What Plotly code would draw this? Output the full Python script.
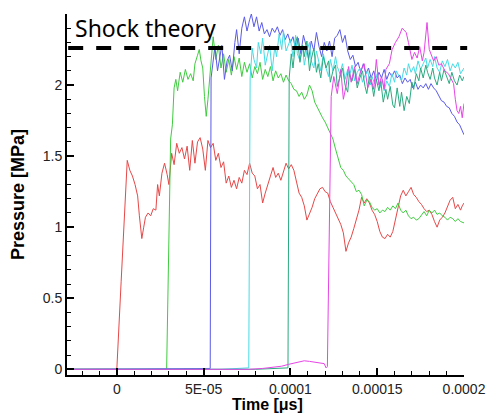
import plotly.graph_objects as go

# (time [us], pressure [MPa])
RED = [(-29,0),(0,0),(2.5,0.62),(5,1.30),(6,1.47),(7.5,1.40),(9,1.36),(10.5,1.30),(12,1.22),(13,1.08),(14.4,0.92),(15.5,1.00),(16.5,1.07),(18,1.10),(19.5,1.08),(21,1.13),(22.5,1.12),(23.5,1.30),(24.5,1.22),(26,1.38),(27.5,1.45),(29,1.37),(30,1.30),(31.6,1.52),(33,1.44),(34.5,1.59),(36,1.52),(37.5,1.56),(39,1.48),(40.5,1.57),(42,1.40),(43.5,1.61),(45,1.45),(46.5,1.60),(48,1.63),(49.5,1.55),(51,1.40),(52.5,1.61),(54,1.56),(55.5,1.59),(57,1.47),(58.5,1.52),(60,1.42),(61.5,1.46),(63,1.31),(64.5,1.36),(66,1.28),(67.5,1.33),(69,1.27),(70.5,1.35),(72,1.31),(73.5,1.40),(75,1.37),(76.5,1.45),(78,1.38),(79.5,1.36),(81,1.27),(82.5,1.30),(84,1.17),(85.5,1.24),(87,1.30),(88.5,1.36),(90,1.42),(91.5,1.35),(93,1.38),(94.5,1.33),(96,1.40),(97.5,1.45),(99,1.41),(100.5,1.44),(102,1.40),(103.5,1.33),(105,1.24),(106.5,1.21),(108,1.15),(109.5,1.05),(111,1.09),(112.5,1.14),(114,1.20),(115.5,1.24),(117,1.27),(118.5,1.28),(120,1.25),(121.5,1.24),(123,1.18),(124.5,1.14),(126,1.10),(127.5,1.07),(129,1.02),(130.5,0.96),(132,0.83),(133.5,0.89),(135,0.93),(136.5,0.99),(138,1.05),(139.5,1.12),(141,1.21),(142.5,1.17),(144,1.20),(145.5,1.17),(147,1.12),(148.5,1.09),(150,1.04),(151.5,0.97),(153,0.93),(154.5,0.92),(156,0.95),(157.5,0.93),(159,0.97),(160.5,1.05),(162,1.12),(163.5,1.22),(165,1.26),(166.5,1.22),(168,1.25),(169.5,1.28),(171,1.23),(172.5,1.21),(174,1.18),(175.5,1.16),(177,1.13),(178.5,1.11),(180,1.12),(181.5,1.09),(183,1.04),(184.5,1.00),(186,1.05),(187.5,1.07),(189,1.10),(190.5,1.15),(192,1.19),(193.5,1.21),(195,1.13),(196.5,1.16),(198,1.12),(199,1.15),(200,1.17)]

GREEN = [(-29,0),(28.7,0),(31,1.62),(32,1.72),(33,1.98),(34,2.04),(35,1.96),(36.5,2.09),(38,2.02),(39.5,2.11),(41,2.04),(42.5,2.08),(44,2.03),(45,2.15),(46.5,2.21),(47.5,2.25),(48.5,2.17),(49.5,2.12),(50.5,1.92),(51.5,1.78),(52.5,1.90),(53.5,2.05),(54.5,2.22),(55.5,2.34),(57,2.18),(58.5,2.28),(60,2.12),(61.5,2.22),(63,2.09),(64.5,2.18),(66,2.07),(67.5,2.20),(69,2.11),(70.5,2.19),(72,2.06),(73.5,2.16),(75,2.09),(76.5,2.15),(78,2.05),(79.5,2.13),(81,2.08),(82.5,2.16),(84,2.04),(85.5,2.11),(87,2.06),(88.5,2.13),(90,2.03),(91.5,2.10),(93,2.05),(94.5,2.08),(96,2.02),(97.5,2.07),(99,2.03),(100.5,2.01),(102,1.97),(103.5,1.96),(105,1.92),(106.5,1.95),(108,1.90),(109.5,1.93),(111,2.00),(112.5,1.96),(114,1.88),(115.5,1.84),(117,1.81),(118.5,1.77),(120,1.74),(121.5,1.70),(123,1.67),(124.5,1.62),(126,1.55),(127.5,1.48),(129,1.42),(130.5,1.40),(132,1.36),(133.5,1.34),(135,1.32),(136.5,1.30),(138,1.25),(139.5,1.26),(141,1.23),(142.5,1.15),(144,1.19),(145.5,1.18),(147,1.14),(148.5,1.12),(150,1.13),(151.5,1.10),(153,1.12),(154.5,1.11),(156,1.14),(157.5,1.12),(159,1.15),(160.5,1.13),(162,1.17),(163.5,1.12),(165,1.10),(166.5,1.12),(168,1.08),(169.5,1.06),(171,1.07),(172.5,1.05),(174,1.06),(175.5,1.09),(177,1.11),(178.5,1.08),(180,1.12),(181.5,1.10),(183,1.12),(184.5,1.09),(186,1.10),(187.5,1.08),(189,1.07),(190.5,1.05),(192,1.07),(193.5,1.06),(195,1.04),(196.5,1.06),(198,1.04),(200,1.03)]

BLUE = [(-29,0),(20,0.002),(40,0.006),(53.8,0.006),(54.3,2.05),(55.5,2.16),(56.5,2.27),(58,2.10),(59.5,2.22),(60.5,2.28),(62,2.04),(63.5,2.17),(65,2.21),(66.5,2.10),(68,2.30),(69,2.39),(70.5,2.22),(72,2.40),(73.5,2.48),(75,2.38),(76.5,2.46),(77.5,2.50),(79,2.41),(80.5,2.48),(82,2.38),(83.5,2.44),(85,2.36),(86.5,2.39),(88,2.34),(89.5,2.40),(91,2.37),(92.5,2.41),(94,2.35),(95.5,2.39),(97,2.32),(98.5,2.36),(100,2.30),(101.5,2.34),(103,2.25),(104.5,2.33),(106,2.22),(107.5,2.35),(109,2.28),(110.5,2.18),(112,2.31),(113.5,2.24),(115,2.37),(116.5,2.27),(118,2.20),(119.5,2.30),(121,2.24),(122.5,2.31),(124,2.20),(125.5,2.33),(127,2.35),(128.5,2.39),(130,2.30),(131.5,2.35),(133,2.24),(134.5,2.18),(136,2.21),(137.5,2.13),(139,2.16),(140.5,2.09),(142,2.15),(143.5,2.08),(145,2.12),(146.5,2.05),(148,2.10),(149.5,2.03),(151,2.09),(152.5,2.05),(154,2.11),(155.5,2.04),(157,2.09),(158.5,2.06),(160,2.10),(161.5,2.05),(163,2.07),(164.5,2.01),(166,2.05),(167.5,2.02),(169,2.04),(170.5,1.98),(172,2.02),(173.5,1.97),(175,2.00),(176.5,1.98),(178,2.01),(179.5,1.97),(181,2.01),(182.5,1.98),(184,1.96),(185.5,1.93),(187,1.89),(188.5,1.88),(190,1.85),(191.5,1.84),(193,1.80),(194.5,1.78),(196,1.74),(197.5,1.72),(199,1.68),(200,1.65)]

CYAN = [(-29,0),(60,0),(76,0.01),(76.8,2.05),(78,2.26),(79,2.18),(80.5,2.12),(81.5,2.30),(83,2.22),(84,2.33),(85.5,2.14),(87,2.24),(88,2.28),(89.5,2.10),(91,2.27),(92,2.20),(93.5,2.36),(95,2.25),(96,2.38),(97.5,2.24),(99,2.29),(100,2.32),(101.5,2.20),(103,2.35),(104,2.22),(105.5,2.17),(107,2.28),(108,2.14),(109.5,2.24),(111,2.30),(112,2.17),(113.5,2.12),(115,2.24),(116.5,2.16),(117.5,2.10),(119,2.22),(120.5,2.12),(122,2.06),(123,2.18),(124.5,2.10),(126,2.20),(127,2.13),(128.5,2.08),(130,2.15),(131.5,2.04),(133,2.11),(134,2.06),(135.5,2.14),(137,2.03),(138.5,2.09),(140,2.12),(141.5,2.02),(143,2.07),(144.5,2.10),(146,2.00),(147,2.06),(148.5,2.01),(150,2.08),(151.5,1.98),(153,2.04),(154,1.96),(155.5,2.03),(157,1.99),(158.5,2.08),(160,2.02),(161,2.10),(162.5,2.06),(164,2.03),(165.5,2.12),(167,2.07),(168,2.15),(169.5,2.09),(171,2.13),(172,2.08),(173.5,2.17),(175,2.11),(176.5,2.15),(178,2.19),(179,2.12),(180.5,2.18),(182,2.13),(183,2.20),(184.5,2.12),(186,2.09),(187.5,2.17),(189,2.13),(190.5,2.18),(192,2.10),(193.5,2.15),(195,2.12),(196.5,2.16),(198,2.08),(200,2.12)]

TEAL = [(-29,0),(80,0),(98.6,0.01),(99.3,2.05),(100.5,2.22),(101.5,2.12),(103,2.30),(104,2.34),(105.5,2.16),(107,2.28),(108,2.20),(109.5,2.31),(111,2.10),(112,2.18),(113.5,2.26),(115,2.09),(116,2.15),(117.5,2.05),(119,2.20),(120.5,2.12),(122,2.17),(123,2.02),(124.5,2.10),(126,2.14),(127,1.99),(128.5,2.06),(130,2.12),(131.5,2.00),(133,1.95),(134,2.08),(135.5,2.03),(137,2.11),(138.5,1.98),(140,2.05),(141.5,2.10),(143,1.99),(144,1.94),(145.5,2.06),(147,2.00),(148,1.92),(149.5,2.04),(151,1.96),(152,2.03),(153.5,1.88),(155,1.97),(156,1.90),(157.5,1.99),(159,1.86),(160,1.84),(161.5,1.98),(163,1.85),(164,1.95),(165.5,1.82),(167,1.92),(168.5,1.87),(170,2.02),(171,1.97),(172.5,2.08),(174,2.03),(175,2.12),(176.5,2.05),(178,2.14),(179,2.09),(180.5,2.04),(182,2.12),(183,2.05),(184.5,2.00),(186,2.09),(187,2.03),(188.5,2.11),(190,2.06),(191.5,2.01),(193,2.09),(194.5,2.03),(196,2.00),(197.5,2.07),(199,2.03),(200,2.06)]

MAGENTA = [(-29,0),(76,0),(84,0.006),(90,0.014),(95,0.022),(99,0.035),(102,0.045),(105,0.055),(108,0.06),(111,0.056),(114,0.05),(117,0.045),(119.5,0.04),(120.5,0.01),(121.3,0.02),(123.5,1.92),(125,2.06),(127,1.94),(129,2.11),(130.5,1.90),(132,1.99),(133.5,2.13),(135,2.02),(137,2.13),(138.5,2.01),(140.5,2.10),(142.5,2.15),(144.5,1.98),(146.5,2.04),(148,1.97),(149.5,2.18),(151,2.00),(152.5,2.06),(154,1.97),(155,2.11),(157,2.15),(158.6,2.25),(160.5,2.30),(162.5,2.34),(164.4,2.40),(166.7,2.37),(168,2.30),(170,2.18),(171.5,2.23),(173,2.19),(174.5,2.27),(176,2.17),(177,2.23),(178.7,2.44),(180,2.25),(181,2.22),(182.5,2.17),(184,2.20),(185.5,2.14),(187,2.15),(189,2.10),(191,2.08),(193,2.04),(194,2.01),(195,1.90),(196,1.82),(197,1.80),(198,1.85),(199,1.77),(200,1.87)]

SHOCK_THEORY = 2.26
X_TICKS = [0, 5e-5, 1e-4, 1.5e-4, 2e-4]
X_TICK_TEXT = ["0", "5E-05", "0.0001", "0.00015", "0.0002"]
Y_TICKS = [0, 0.5, 1, 1.5, 2, 2.5]
Y_TICK_TEXT = ["0", "0.5", "1", "1.5", "2", "2.5"]

series = [
    (RED, "#e64848"),
    (GREEN, "#3fcc3f"),
    (BLUE, "#5a5ae8"),
    (CYAN, "#45dce6"),
    (TEAL, "#2aaa80"),
    (MAGENTA, "#e645e6"),
]

fig = go.Figure()
for data, color in series:
    fig.add_trace(go.Scatter(
        x=[t * 1e-6 for t, p in data],
        y=[p for t, p in data],
        mode="lines",
        line=dict(color=color, width=1),
        showlegend=False,
        hoverinfo="skip",
    ))

fig.add_shape(type="line", xref="paper", yref="y", x0=0.003, x1=1.008,
              y0=SHOCK_THEORY, y1=SHOCK_THEORY,
              line=dict(color="black", width=4, dash="15px,13px"), layer="above")

fig.add_annotation(text="Shock theory", xref="paper", yref="y", x=0.016, y=2.40,
                   xanchor="left", yanchor="middle", showarrow=False,
                   font=dict(family="Noto Sans", size=23, color="black"))

# x-axis title placed just under the tick labels
fig.add_annotation(text="<b>Time [μs]</b>", xref="paper", yref="paper", x=0.506, y=-0.082,
                   xanchor="center", yanchor="middle", showarrow=False,
                   font=dict(family="Liberation Sans", size=16, color="black"))

# the page body adds an 8px offset, so the figure is sized to fit the 494x413 window
axis_font = dict(family="Liberation Sans", size=14, color="#222222")
title_font = dict(family="Liberation Sans", size=18, color="black")
fig.update_layout(
    width=486, height=405,
    margin=dict(l=59, r=30, t=6, b=38, autoexpand=False),
    paper_bgcolor="white", plot_bgcolor="white",
    xaxis=dict(
        range=[-2.87e-5, 2.0e-4],
        automargin=False,
        tickvals=X_TICKS, ticktext=X_TICK_TEXT,
        ticks="inside", ticklen=7, tickwidth=1.5, tickcolor="black",
        minor=dict(dtick=1e-5, tick0=0, ticks="inside", ticklen=4, tickcolor="black", tickwidth=1),
        showline=True, linecolor="black", linewidth=2,
        showgrid=False, zeroline=False,
        tickfont=axis_font,
    ),
    yaxis=dict(
        range=[-0.04, 2.5],
        automargin=False,
        tickvals=Y_TICKS, ticktext=Y_TICK_TEXT,
        ticks="inside", ticklen=7, tickwidth=1.5, tickcolor="black",
        minor=dict(dtick=0.1, tick0=0, ticks="inside", ticklen=4, tickcolor="black", tickwidth=1),
        showline=True, linecolor="black", linewidth=2,
        showgrid=False, zeroline=False,
        tickfont=axis_font,
        title=dict(text="<b>Pressure [MPa]</b>", font=title_font, standoff=14),
    ),
)

fig.write_html("out.html")
